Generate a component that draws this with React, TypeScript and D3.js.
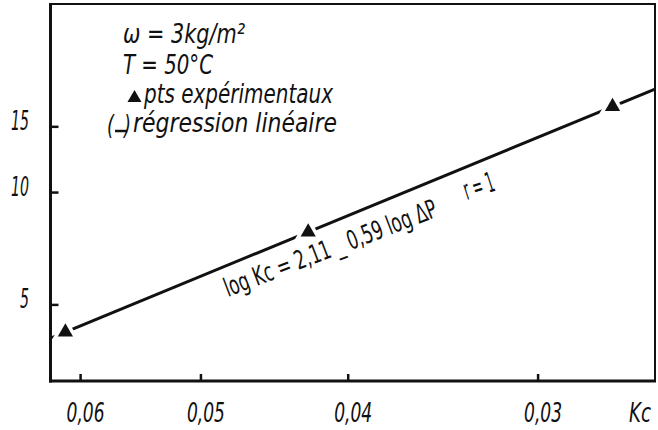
import * as d3 from "d3";

// values (log-log axes, Kc reversed)
const kcValues = [0.0614, 0.0425, 0.0268];
const dpValues = [4.23, 7.84, 17.0];
const kcDomain = [0.0628, 0.02513];
const dpDomain = [3.127, 32.0];
const xTickValues = [0.06, 0.05, 0.04, 0.03];
const xTickLabels = ["0,06", "0,05", "0,04", "0,03"];
const yTickValues = [5, 10, 15];
const yTickLabels = ["5", "10", "15"];
const legendLines = ["ω = 3kg/m²", "T = 50°C", "pts expérimentaux", "régression linéaire"];
const equationText = "log Kc = 2,11 _ 0,59 log ΔP";
const rText = "r = 1";
const xAxisTitle = "Kc";

const W = 658;
const H = 430;
const LEFT = 50.5;
const RIGHT = 655;
const TOP = 4;
const BOTTOM = 381;
const FONT = "'DejaVu Sans Condensed', 'Liberation Sans Narrow', 'DejaVu Sans', sans-serif";
const INK = "#111";
const FS = 26;

export default function App() {
  const x = d3.scaleLog().domain(kcDomain).range([LEFT, RIGHT]);
  const y = d3.scaleLog().domain(dpDomain).range([BOTTOM, TOP]);

  // least squares in log-log space
  const lx = kcValues.map(Math.log10);
  const ly = dpValues.map(Math.log10);
  const mx = d3.mean(lx) as number;
  const my = d3.mean(ly) as number;
  const slope =
    d3.sum(lx, (v, i) => (v - mx) * (ly[i] - my)) / d3.sum(lx, (v) => (v - mx) ** 2);
  const intercept = my - slope * mx;
  const fitData: [number, number][] = kcDomain.map((k) => [k, 10 ** (intercept + slope * Math.log10(k))]);
  const fitPath = d3
    .line<[number, number]>()
    .x((d) => x(d[0]))
    .y((d) => y(d[1]))(fitData) as string;

  const tri = d3.symbol(d3.symbolTriangle, 100)() as string;
  const legendTri = d3.symbol(d3.symbolTriangle, 85)() as string;

  return (
    <svg
      width={W}
      height={H}
      viewBox={`0 0 ${W} ${H}`}
      style={{ position: "absolute", left: 0, top: 0, background: "#fff" }}
    >
      <defs>
        <clipPath id="plot-clip">
          <rect x={LEFT + 1.5} y={TOP} width={RIGHT - LEFT - 1.5} height={BOTTOM - TOP} />
        </clipPath>
      </defs>
      <rect width={W} height={H} fill="#fff" />

      {/* regression line, then points with a white halo */}
      <path d={fitPath} fill="none" stroke={INK} strokeWidth={3} clipPath="url(#plot-clip)" />
      {kcValues.map((k, i) => (
        <g key={i} transform={`translate(${x(k)},${y(dpValues[i])})`}>
          <path d={tri} fill="#fff" stroke="#fff" strokeWidth={7} />
          <path d={tri} fill={INK} />
        </g>
      ))}

      {/* frame */}
      <line x1={LEFT} x2={LEFT} y1={TOP - 1} y2={BOTTOM + 1.5} stroke={INK} strokeWidth={3} />
      <line x1={LEFT - 1.5} x2={RIGHT + 1} y1={BOTTOM} y2={BOTTOM} stroke={INK} strokeWidth={3} />
      <line x1={LEFT} x2={RIGHT + 1} y1={TOP} y2={TOP} stroke={INK} strokeWidth={2} />
      <line x1={RIGHT} x2={RIGHT} y1={TOP} y2={BOTTOM} stroke={INK} strokeWidth={2} />

      {/* y ticks */}
      {yTickValues.map((v, i) => (
        <g key={v}>
          <line x1={LEFT} x2={LEFT + 8} y1={y(v)} y2={y(v)} stroke={INK} strokeWidth={2.5} />
          <text
            x={29}
            y={y(v) + 3}
            textAnchor="end"
            fontFamily={FONT}
            fontStyle="italic"
            fontSize={FS}
            textLength={yTickLabels[i].length * 9}
            lengthAdjust="spacingAndGlyphs"
            fill={INK}
          >
            {yTickLabels[i]}
          </text>
        </g>
      ))}

      {/* x ticks */}
      {xTickValues.map((v, i) => (
        <g key={v}>
          <line x1={x(v)} x2={x(v)} y1={BOTTOM} y2={BOTTOM - 7} stroke={INK} strokeWidth={2.5} />
          <text
            x={x(v) + 5}
            y={422}
            textAnchor="middle"
            fontFamily={FONT}
            fontStyle="italic"
            fontSize={FS}
            textLength={38}
            lengthAdjust="spacingAndGlyphs"
            fill={INK}
          >
            {xTickLabels[i]}
          </text>
        </g>
      ))}
      <text
        x={640}
        y={422}
        textAnchor="middle"
        fontFamily={FONT}
        fontStyle="italic"
        fontSize={FS}
        textLength={22}
        lengthAdjust="spacingAndGlyphs"
        fill={INK}
      >
        {xAxisTitle}
      </text>

      {/* legend block */}
      <g fontFamily={FONT} fontStyle="italic" fontSize={FS} fill={INK}>
        <text x={123} y={43} textLength={122} lengthAdjust="spacingAndGlyphs">
          {legendLines[0]}
        </text>
        <text x={123} y={74} textLength={90} lengthAdjust="spacingAndGlyphs">
          {legendLines[1]}
        </text>
        <path d={legendTri} transform="translate(134.5,98)" fill={INK} />
        <text x={144} y={103} textLength={189} lengthAdjust="spacingAndGlyphs">
          {legendLines[2]}
        </text>
        <text x={107} y={134} textLength={7} lengthAdjust="spacingAndGlyphs">(</text>
        <line x1={115} x2={127} y1={131} y2={131} stroke={INK} strokeWidth={2.5} />
        <text x={124} y={134} textLength={7} lengthAdjust="spacingAndGlyphs">)</text>
        <text x={133} y={132} textLength={204} lengthAdjust="spacingAndGlyphs">
          {legendLines[3]}
        </text>
      </g>

      {/* equation along the line */}
      <text
        transform="translate(228,297) rotate(-21)"
        fontFamily={FONT}
        fontSize={FS}
        textLength={226}
        lengthAdjust="spacingAndGlyphs"
        fill={INK}
      >
        {equationText}
      </text>
      <text
        transform="translate(467,200) rotate(-18)"
        fontFamily={FONT}
        fontSize={28}
        textLength={31}
        lengthAdjust="spacingAndGlyphs"
        fill={INK}
      >
        {rText}
      </text>
    </svg>
  );
}
